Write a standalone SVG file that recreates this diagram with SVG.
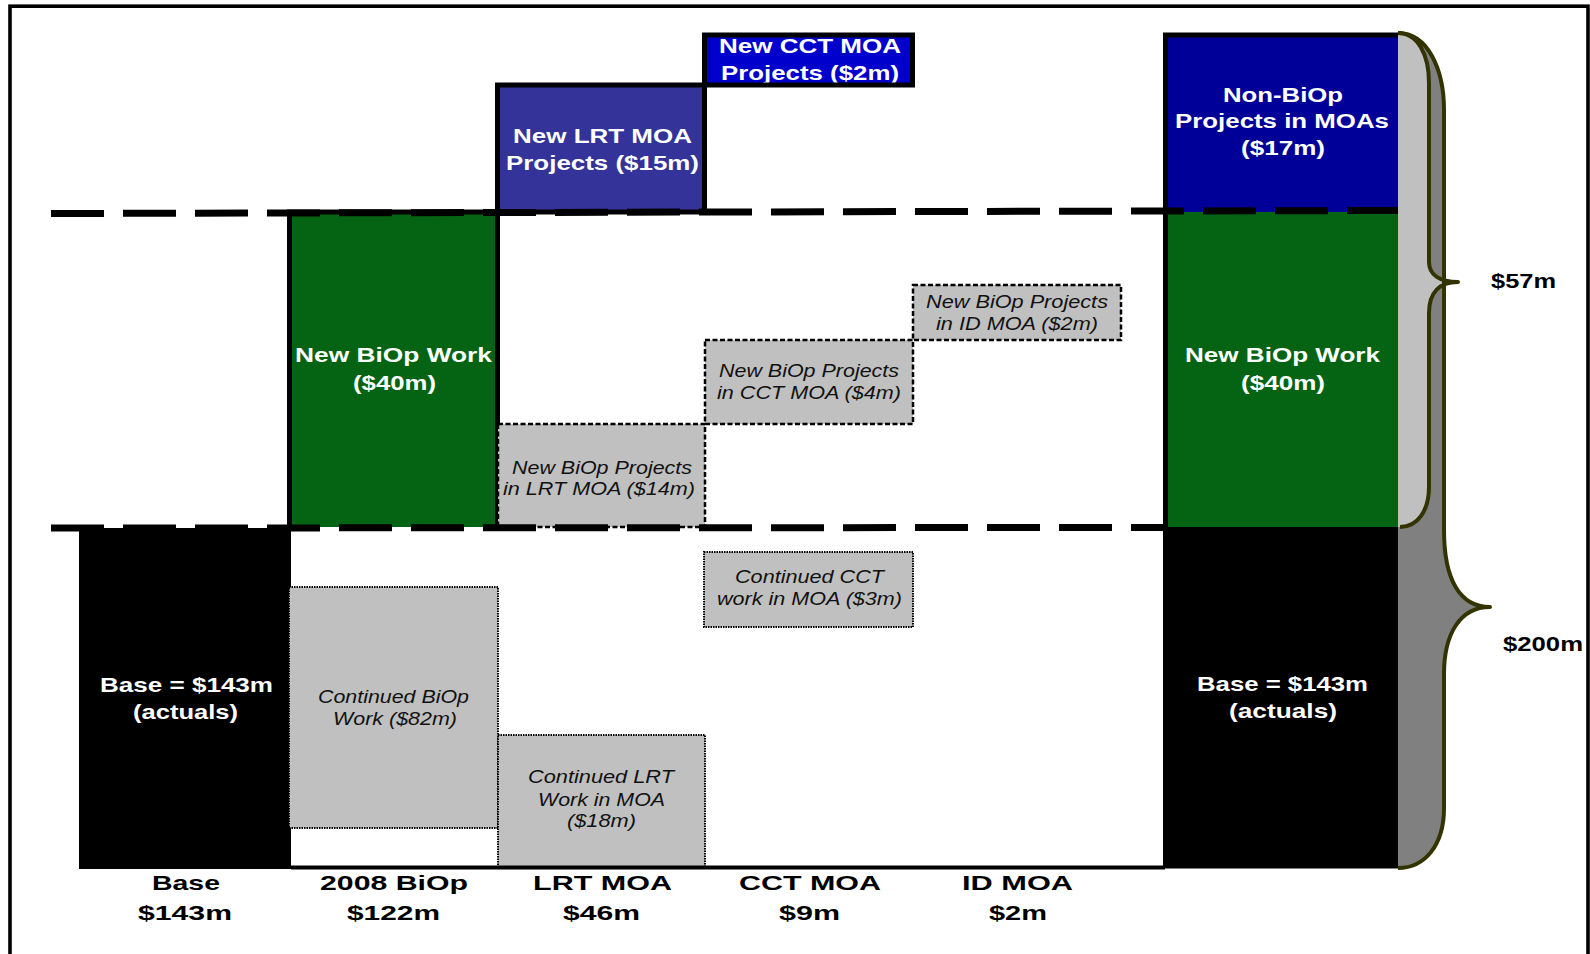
<svg xmlns="http://www.w3.org/2000/svg" width="1590" height="954" viewBox="0 0 1590 954">
<style>
text{font-family:"Liberation Sans",Arial,Helvetica,sans-serif;text-anchor:middle}
.lb{font-weight:bold;font-size:21px;fill:#fff}
.it{font-style:italic;font-size:18.5px;fill:#111}
.ax{font-weight:bold;font-size:20.5px;fill:#000}
.solid{stroke:#000;stroke-width:5}
.dot{fill:#c0c0c0;stroke:#000;stroke-width:2;stroke-dasharray:1.5 1}
.dash{fill:#c0c0c0;stroke:#000;stroke-width:2.5;stroke-dasharray:5 2.5}
.guide{fill:none;stroke:#000;stroke-width:7;stroke-dasharray:53 19}
.brace{stroke:#333300;stroke-width:4;stroke-linejoin:round}
</style>
<rect x="0" y="0" width="1590" height="954" fill="#fff"/>
<rect x="10" y="6.2" width="1578" height="1000" fill="none" stroke="#000" stroke-width="3.6"/>

<g id="base">
<rect x="79" y="528" width="212" height="341" fill="#000"/>
<text class="lb" x="186.5" y="692" textLength="173" lengthAdjust="spacingAndGlyphs">Base = $143m</text>
<text class="lb" x="185.5" y="719" textLength="105" lengthAdjust="spacingAndGlyphs">(actuals)</text>
</g>

<g id="continued-biop">
<rect class="dot" x="289" y="587" width="209" height="241"/>
<text class="it" x="393.5" y="703" textLength="151" lengthAdjust="spacingAndGlyphs">Continued BiOp</text>
<text class="it" x="395" y="725" textLength="124" lengthAdjust="spacingAndGlyphs">Work ($82m)</text>
</g>

<g id="new-biop-work">
<rect x="289.5" y="212" width="208" height="315" fill="#046413"/>
<path d="M289.5,527 L289.5,212 L497.5,212 L497.5,527" fill="none" stroke="#000" stroke-width="5"/>
<text class="lb" x="393.5" y="362" textLength="197" lengthAdjust="spacingAndGlyphs">New BiOp Work</text>
<text class="lb" x="394.5" y="390" textLength="83" lengthAdjust="spacingAndGlyphs">($40m)</text>
</g>

<g id="continued-lrt">
<rect class="dot" x="498" y="735" width="207" height="133"/>
<text class="it" x="601" y="783" textLength="146" lengthAdjust="spacingAndGlyphs">Continued LRT</text>
<text class="it" x="601.5" y="806" textLength="127" lengthAdjust="spacingAndGlyphs">Work in MOA</text>
<text class="it" x="601.5" y="827" textLength="69" lengthAdjust="spacingAndGlyphs">($18m)</text>
</g>

<g id="new-biop-lrt">
<rect class="dash" x="498" y="424" width="207" height="103"/>
<text class="it" x="602" y="474" textLength="180" lengthAdjust="spacingAndGlyphs">New BiOp Projects</text>
<text class="it" x="599" y="495" textLength="192" lengthAdjust="spacingAndGlyphs">in LRT MOA ($14m)</text>
</g>

<g id="new-lrt-moa">
<rect x="497.5" y="85" width="207" height="127" fill="#333399"/>
<text class="lb" x="602.5" y="143" textLength="179" lengthAdjust="spacingAndGlyphs">New LRT MOA</text>
<text class="lb" x="602.5" y="170" textLength="193" lengthAdjust="spacingAndGlyphs">Projects ($15m)</text>
<rect class="solid" x="497.5" y="85" width="207" height="127" fill="none"/>
</g>

<g id="new-cct-moa">
<rect x="704.5" y="35" width="208" height="50" fill="#0000cc"/>
<text class="lb" x="810" y="53" textLength="182" lengthAdjust="spacingAndGlyphs">New CCT MOA</text>
<text class="lb" x="810" y="80" textLength="178" lengthAdjust="spacingAndGlyphs">Projects ($2m)</text>
<rect class="solid" x="704.5" y="35" width="208" height="50" fill="none"/>
</g>

<g id="new-biop-cct">
<rect class="dash" x="705" y="340" width="208" height="84"/>
<text class="it" x="809" y="377" textLength="180" lengthAdjust="spacingAndGlyphs">New BiOp Projects</text>
<text class="it" x="809" y="399" textLength="184" lengthAdjust="spacingAndGlyphs">in CCT MOA ($4m)</text>
</g>

<g id="continued-cct">
<rect class="dot" x="704" y="552" width="209" height="75"/>
<text class="it" x="809.5" y="583" textLength="149" lengthAdjust="spacingAndGlyphs">Continued CCT</text>
<text class="it" x="809.5" y="605" textLength="185" lengthAdjust="spacingAndGlyphs">work in MOA ($3m)</text>
</g>

<g id="new-biop-id">
<rect class="dash" x="913" y="285" width="208" height="55"/>
<text class="it" x="1017" y="308" textLength="182" lengthAdjust="spacingAndGlyphs">New BiOp Projects</text>
<text class="it" x="1017" y="330" textLength="162" lengthAdjust="spacingAndGlyphs">in ID MOA ($2m)</text>
</g>

<g id="axis">
<line x1="291" y1="867.5" x2="1165" y2="867.5" stroke="#000" stroke-width="4"/>
</g>

<g id="total-braces">
<path d="M1398,33 C1428,33 1444,70 1444,110 L1444,530 C1444,580 1460,607 1490,607 C1460,607 1444,634 1444,674 L1444,808 C1444,845 1425,868 1398,868 Z" fill="#808080"/>
<path d="M1398,33 C1418,33 1429,55 1429,83 L1429,262 C1429,275 1440,282 1458,282 C1440,282 1429,292 1429,313 L1429,487 C1429,510 1418,527 1400,527 L1398,527 Z" fill="#c0c0c0"/>
<path class="brace" fill="none" d="M1398,33 C1418,33 1429,55 1429,83 L1429,262 C1429,275 1440,282 1458,282 C1440,282 1429,292 1429,313 L1429,487 C1429,510 1418,527 1400,527"/>
<path class="brace" fill="none" d="M1398,33 C1428,33 1444,70 1444,110 L1444,530 C1444,580 1460,607 1490,607 C1460,607 1444,634 1444,674 L1444,808 C1444,845 1425,868 1398,868"/>
<text class="ax" x="1523.5" y="288" font-size="21" textLength="65" lengthAdjust="spacingAndGlyphs">$57m</text>
<text class="ax" x="1543" y="651" font-size="21" textLength="80" lengthAdjust="spacingAndGlyphs">$200m</text>
</g>

<g id="non-biop">
<rect x="1165.5" y="35" width="232.5" height="177" fill="#000099"/>
<text class="lb" x="1283" y="102" textLength="120" lengthAdjust="spacingAndGlyphs">Non-BiOp</text>
<text class="lb" x="1282" y="128" textLength="214" lengthAdjust="spacingAndGlyphs">Projects in MOAs</text>
<text class="lb" x="1283" y="155" textLength="84" lengthAdjust="spacingAndGlyphs">($17m)</text>
</g>

<g id="total-new-biop-work">
<rect x="1165.5" y="212" width="232.5" height="315" fill="#046413"/>
<text class="lb" x="1282.5" y="362" textLength="195" lengthAdjust="spacingAndGlyphs">New BiOp Work</text>
<text class="lb" x="1283" y="390" textLength="84" lengthAdjust="spacingAndGlyphs">($40m)</text>
</g>

<g id="total-base">
<rect x="1163" y="527" width="235" height="341.5" fill="#000"/>
<text class="lb" x="1282.5" y="691" textLength="171" lengthAdjust="spacingAndGlyphs">Base = $143m</text>
<text class="lb" x="1283" y="718" textLength="108" lengthAdjust="spacingAndGlyphs">(actuals)</text>
<path d="M1165.5,868 L1165.5,35 L1398,35" fill="none" stroke="#000" stroke-width="5"/>
</g>

<g id="connectors">
<line class="guide" x1="51" y1="213.5" x2="1398" y2="210.5"/>
<line class="guide" x1="51" y1="528" x2="1163" y2="527.5"/>
</g>

<g id="labels">
<text class="ax" x="186" y="890" textLength="68" lengthAdjust="spacingAndGlyphs">Base</text>
<text class="ax" x="185" y="920" textLength="94" lengthAdjust="spacingAndGlyphs">$143m</text>
<text class="ax" x="394" y="890" textLength="148" lengthAdjust="spacingAndGlyphs">2008 BiOp</text>
<text class="ax" x="393.5" y="920" textLength="93" lengthAdjust="spacingAndGlyphs">$122m</text>
<text class="ax" x="602.5" y="890" textLength="139" lengthAdjust="spacingAndGlyphs">LRT MOA</text>
<text class="ax" x="601.5" y="920" textLength="77" lengthAdjust="spacingAndGlyphs">$46m</text>
<text class="ax" x="810" y="890" textLength="142" lengthAdjust="spacingAndGlyphs">CCT MOA</text>
<text class="ax" x="809.5" y="920" textLength="61" lengthAdjust="spacingAndGlyphs">$9m</text>
<text class="ax" x="1017.5" y="890" textLength="111" lengthAdjust="spacingAndGlyphs">ID MOA</text>
<text class="ax" x="1018" y="920" textLength="58" lengthAdjust="spacingAndGlyphs">$2m</text>
</g>
</svg>
